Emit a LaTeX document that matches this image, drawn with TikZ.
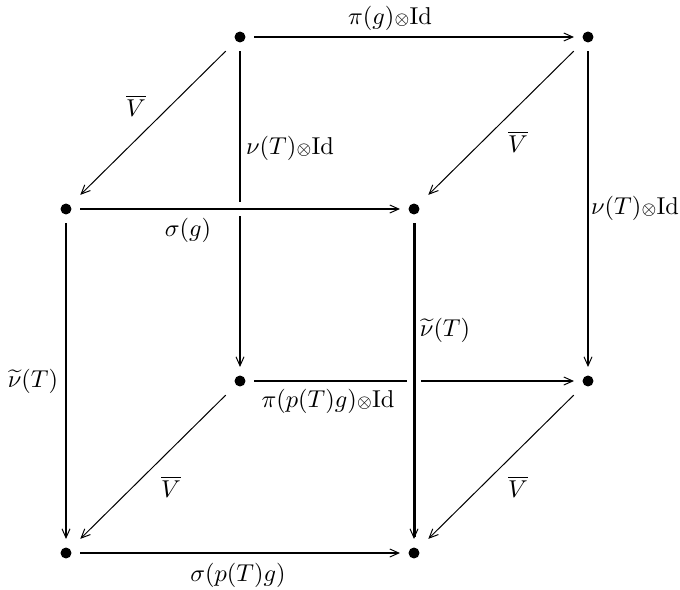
\documentclass[tikz,border=0pt]{standalone}
\usetikzlibrary{arrows.meta}
\newcommand{\sot}{{\scriptstyle\otimes}}
\begin{document}
\begin{tikzpicture}[x=0.41pt,y=-0.41pt,
  dot/.style={circle,fill=black,inner sep=0pt,minimum size=4.5pt,outer sep=3.5pt},
  tip/.style={-{Straight Barb[length=3.7pt,width=3.3pt,line width=0.4pt]}},
  ar/.style={tip,line width=0.82pt},
  thick front/.style={tip,line width=1.23pt},
  dg/.style={tip,line width=0.41pt,shorten <=2.5pt,shorten >=2.5pt},
  front/.style={preaction={draw=white,line width=6.1pt,-}},
  lab/.style={inner sep=0pt}]
\useasboundingbox (0,0) rectangle (680,589);
% vertices
\node[dot] (BTL) at (240,37) {};
\node[dot] (BTR) at (588,37) {};
\node[dot] (FTL) at (66,209) {};
\node[dot] (FTR) at (414,209) {};
\node[dot] (BBL) at (240,381) {};
\node[dot] (BBR) at (588,381) {};
\node[dot] (FBL) at (66,553) {};
\node[dot] (FBR) at (414,553) {};
% back edges
\draw[ar] (BTL) -- (BTR);
\draw[ar] (BTL) -- (BBL);
\draw[ar] (BTR) -- (BBR);
\draw[ar] (BBL) -- (BBR);
% front edges
\draw[ar,front] (FTL) -- (FTR);
\draw[ar,front] (FTL) -- (FBL);
\draw[thick front,front] (FTR) -- (FBR);
\draw[ar,front] (FBL) -- (FBR);
% diagonals
\draw[dg] (BTL) -- (FTL);
\draw[dg] (BTR) -- (FTR);
\draw[dg] (BBL) -- (FBL);
\draw[dg] (BBR) -- (FBR);
% labels
\node[lab] (l1) at (390,18) {$\pi(g)\sot\mathrm{Id}$};
\node[lab] (l2) at (290,148) {$\nu(T)\sot\mathrm{Id}$};
\node[lab] (l3) at (136,106) {$\overline{V}$};
\node[lab] (l4) at (518,142) {$\overline{V}$};
\node[lab] (l5) at (188,230) {$\sigma(g)$};
\node[lab] (l6) at (635,208) {$\nu(T)\sot\mathrm{Id}$};
\node[lab] (l7) at (445,330) {$\widetilde{\nu}(T)$};
\node[lab] (l8) at (33,381) {$\widetilde{\nu}(T)$};
\node[lab] (l9) at (328,401) {$\pi(p(T)g)\sot\mathrm{Id}$};
\node[lab] (l10) at (171,487) {$\overline{V}$};
\node[lab] (l11) at (518,487) {$\overline{V}$};
\node[lab] (l12) at (238,575) {$\sigma(p(T)g)$};
\end{tikzpicture}
\end{document}
